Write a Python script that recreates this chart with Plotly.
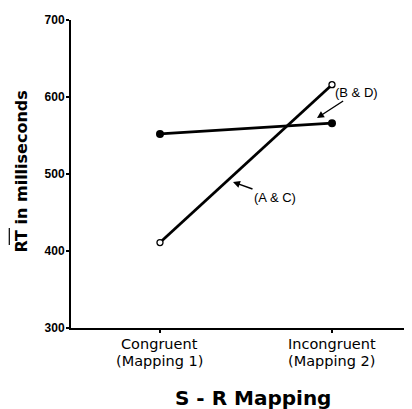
import plotly.graph_objects as go

cat_line1 = ["Congruent", "Incongruent"]
cat_line2 = ["(Mapping 1)", "(Mapping 2)"]
x_pos = [1, 2]
rt_ac = [411, 616]   # open circles (A & C)
rt_bd = [552, 566]   # filled circles (B & D)
y_ticks = [300, 400, 500, 600, 700]

ARIAL = "Liberation Sans, Arial, sans-serif"
DEJAVU = "DejaVu Sans, sans-serif"

fig = go.Figure()
fig.add_trace(go.Scatter(
    x=x_pos, y=rt_bd, mode="lines+markers",
    line=dict(color="black", width=2.8),
    marker=dict(symbol="circle", size=8, color="black"),
    showlegend=False))
fig.add_trace(go.Scatter(
    x=x_pos, y=rt_ac, mode="lines+markers",
    line=dict(color="black", width=2.8),
    marker=dict(symbol="circle", size=6, color="white",
                line=dict(color="black", width=1.3)),
    showlegend=False))

# page has an 8px body margin; figure is shrunk accordingly
fig.update_layout(
    width=404, height=401,
    margin=dict(l=63, r=2, t=12, b=81),
    paper_bgcolor="white", plot_bgcolor="white",
    font=dict(family=ARIAL, color="black"),
    xaxis=dict(range=[0.4827, 2.4535], tickvals=x_pos, showticklabels=False,
               showgrid=False, zeroline=False, showline=True,
               linecolor="black", linewidth=2, ticks="outside",
               ticklen=3, tickcolor="black", tickwidth=1.5),
    yaxis=dict(range=[300, 700], tickvals=y_ticks, showgrid=False,
               zeroline=False, showline=True, linecolor="black", linewidth=2,
               ticks="outside", ticklen=3, tickcolor="black", tickwidth=1.5,
               ticklabelstandoff=-1,
               tickfont=dict(size=12, family=ARIAL, weight="bold")),
)

# category labels (two lines, tight spacing)
for xv, t1, t2 in zip(x_pos, cat_line1, cat_line2):
    fig.add_annotation(x=xv, xref="x", y=-0.0510, yref="paper", text=t1,
                       showarrow=False, xanchor="center", yanchor="middle",
                       font=dict(family=DEJAVU, size=14.5))
    fig.add_annotation(x=xv, xref="x", y=-0.1065, yref="paper", text=t2,
                       showarrow=False, xanchor="center", yanchor="middle",
                       font=dict(family=DEJAVU, size=14.5))

# x-axis title
fig.add_annotation(xref="paper", yref="paper", x=0.537, y=-0.2286,
                   xanchor="center", yanchor="middle",
                   text="<b>S - R Mapping</b>", showarrow=False,
                   font=dict(family=DEJAVU, size=20))

# y-axis title with overline on RT
fig.add_annotation(xref="paper", yref="paper", x=-0.1445, y=0.508,
                   xanchor="center", yanchor="middle", textangle=-90,
                   text="<b>RT in milliseconds</b>", showarrow=False,
                   font=dict(family=DEJAVU, size=16))
fig.add_shape(type="line", xref="paper", yref="paper",
              x0=-0.1820, x1=-0.1820, y0=0.2695, y1=0.3247,
              line=dict(color="black", width=1.2))

fig.add_annotation(x=1.9128, y=572.7, text="(B & D)", showarrow=True,
                   ax=40, ay=-26, arrowhead=2, arrowsize=1, arrowwidth=1.4,
                   arrowcolor="black", font=dict(size=13, family=ARIAL))
fig.add_annotation(x=1.4245, y=489.6, text="(A & C)", showarrow=True,
                   ax=42, ay=15, arrowhead=2, arrowsize=1, arrowwidth=1.4,
                   arrowcolor="black", font=dict(size=13, family=ARIAL))

fig.write_html("out.html")
